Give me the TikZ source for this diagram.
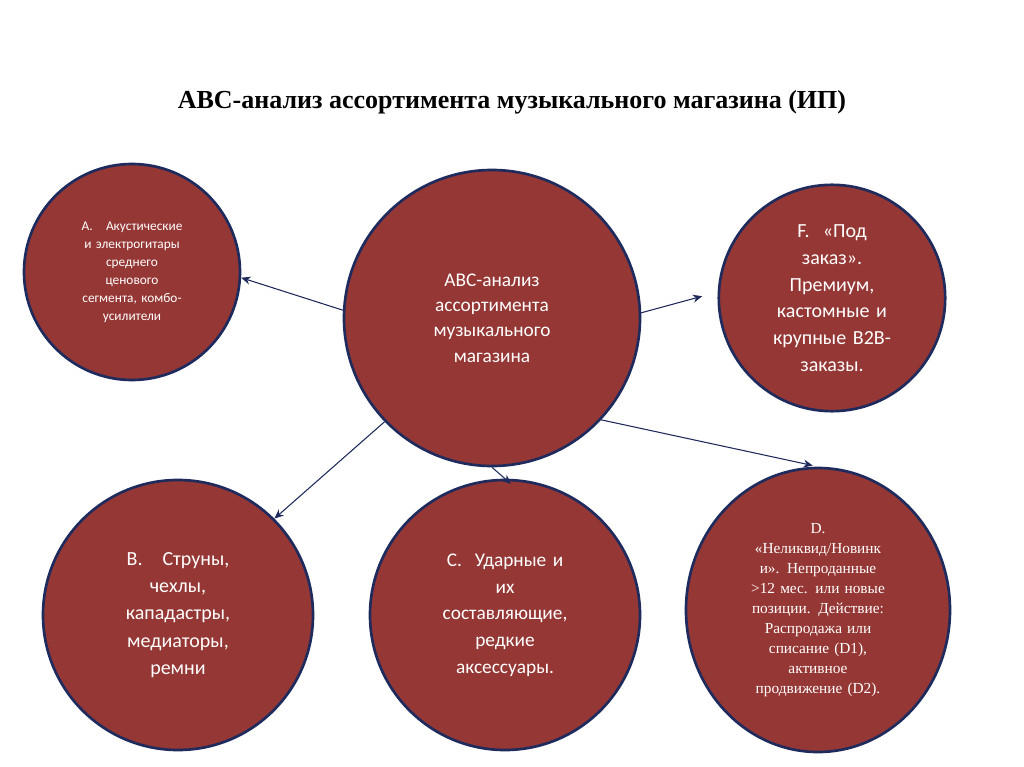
\documentclass[tikz,border=0pt]{standalone}
\usepackage{fontspec}
\setmainfont{Liberation Serif}
\newfontfamily\calfnt{Carlito}
\usetikzlibrary{shapes.geometric,arrows.meta}
\definecolor{fillred}{HTML}{953735}
\definecolor{navy}{HTML}{1F2B5C}
\tikzset{
  bub/.style={circle,draw=navy,line width=2pt,fill=fillred,text=white,align=center,inner sep=0pt},
  conn/.style={navy,line width=0.8pt,-{Stealth[length=7pt,width=6pt]}}
}
\begin{document}
\begin{tikzpicture}[x=0.75pt,y=-0.75pt]
\useasboundingbox[fill=white] (0,0) rectangle (1024,767);
\node[font=\bfseries\fontsize{19.5}{23}\selectfont] (t) at (512,102) {АВС-анализ ассортимента музыкального магазина (ИП)};
\node[bub,minimum size=296*0.75pt,font=\calfnt\fontsize{14.5}{19}\selectfont,text width=130pt] (c) at (492,318) {АВС-анализ\\ассортимента\\музыкального\\магазина\\[10pt]};
\node[bub,minimum size=216*0.75pt,font=\calfnt\fontsize{10}{13.5}\selectfont,text width=130pt] (a) at (132,272) {А.\quad Акустические\\и электрогитары\\среднего\\ценового\\сегмента, комбо-\\усилители\\[18pt]};
\node[bub,minimum size=224*0.75pt,font=\calfnt\fontsize{15}{20}\selectfont,text width=130pt] (f) at (832,298) {F.\ \ «Под\\заказ».\\Премиум,\\кастомные и\\крупные B2B-\\заказы.};
\node[bub,minimum size=270*0.75pt,font=\calfnt\fontsize{15}{20.5}\selectfont,text width=150pt] (b) at (178,615) {B.\quad Струны,\\чехлы,\\кападастры,\\медиаторы,\\ремни\\[8pt]};
\node[bub,minimum size=270*0.75pt,font=\calfnt\fontsize{14.5}{20}\selectfont,text width=150pt] (cc) at (505,615) {C.\ \ Ударные и\\их\\составляющие,\\редкие\\аксессуары.\\[6pt]};
\node[ellipse,draw=navy,line width=2pt,fill=fillred,text=white,align=center,inner sep=0pt,minimum width=264*0.75pt,minimum height=284*0.75pt,font=\fontsize{11.5}{15}\selectfont,text width=130pt] (d) at (818,610) {D.\\«Неликвид/Новинк\\и». Непроданные\\>12 мес. или новые\\позиции. Действие:\\Распродажа или\\списание (D1),\\активное\\продвижение (D2).};
\draw[conn] (c.177.6) -- (a.-3);
\draw[conn,shorten >=16*0.75pt] (c.2.3) -- (f.177);
\draw[conn] (c.224.4) -- (b.45.6);
\draw[conn,shorten >=-6pt] (c.south) -- (cc.north);
\draw[conn,shorten >=4pt] (c.-43.9) -- (d.north);
\end{tikzpicture}
\end{document}
